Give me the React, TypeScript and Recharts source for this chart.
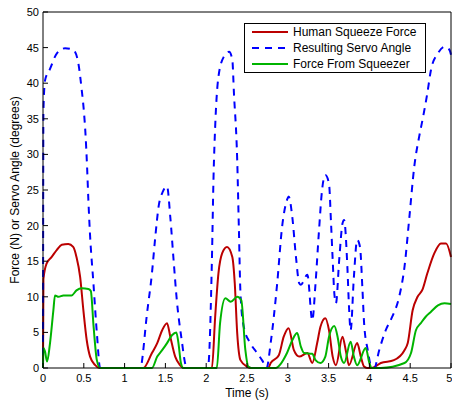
import { LineChart, Line, XAxis, YAxis, Legend } from 'recharts';

// Time (s) and values, one pair of arrays per series
const humanTime = [
  0, 0.005, 0.045, 0.107, 0.17, 0.23, 0.31, 0.37, 0.41, 0.455, 0.495, 0.536, 0.577, 0.64, 0.69,
  1.23, 1.335, 1.4, 1.46, 1.52, 1.56, 1.62, 1.68, 1.72,
  2.07, 2.11, 2.15, 2.195, 2.255, 2.32, 2.35, 2.38, 2.42, 2.5, 2.55,
  2.76, 2.79, 2.89, 2.95, 3.01, 3.075, 3.14, 3.24, 3.3, 3.36, 3.4, 3.46, 3.505, 3.55, 3.59,
  3.67, 3.71, 3.75, 3.85, 3.895, 3.935, 3.97, 4.03, 4.14, 4.3, 4.43, 4.47, 4.53, 4.59, 4.65,
  4.71, 4.795, 4.877, 4.94, 5,
];
const humanForce = [
  0, 12.5, 14.7, 15.6, 16.6, 17.3, 17.4, 17.0, 15.6, 12.8, 8.1, 3.9, 1.6, 0.4, 0,
  0, 2.1, 3.5, 5.3, 6.3, 4.4, 1.6, 0.4, 0,
  0, 7.2, 13.3, 16.1, 17.0, 15.6, 11.9, 4.9, 1.1, 0.2, 0,
  0, 0.7, 1.8, 4.4, 5.6, 2.5, 1.6, 2.1, 0.7, 3.5, 5.8, 7.0, 5.3, 1.6, 0.4,
  4.4, 2.5, 0.4, 3.5, 1.6, 0.2, 0, 0, 0.7, 1.1, 2.5, 3.5, 8.1, 10, 11,
  13.3, 16.1, 17.5, 17.5, 15.6,
];

const servoTime = [
  0, 0.005, 0.025, 0.086, 0.17, 0.27, 0.37, 0.43, 0.475, 0.5, 0.52, 0.54, 0.556, 0.575, 0.618, 0.66, 0.7,
  1.2, 1.21, 1.27, 1.335, 1.376, 1.417, 1.47, 1.52, 1.56, 1.6, 1.64, 1.7, 1.745, 1.76,
  2.02, 2.03, 2.07, 2.09, 2.11, 2.15, 2.215, 2.28, 2.32, 2.34, 2.38, 2.4, 2.42, 2.46, 2.54, 2.625, 2.69, 2.74,
  2.79, 2.87, 2.93, 2.99, 3.01, 3.055, 3.1, 3.14, 3.16, 3.24, 3.3, 3.34, 3.38, 3.42, 3.46, 3.505,
  3.53, 3.55, 3.57, 3.59, 3.63, 3.67, 3.69, 3.73, 3.75, 3.77, 3.81, 3.85, 3.885, 3.915, 3.935, 3.98,
  4.02, 4.06, 4.12, 4.2, 4.28, 4.365, 4.43, 4.49, 4.55, 4.61, 4.65, 4.71, 4.755, 4.84, 4.92, 4.98, 5,
];
const servoAngle = [
  0, 36, 40.4, 42, 44.2, 44.9, 44.7, 43, 39, 36.2, 33, 28.3, 23.6, 19, 11.9, 4.9, 0,
  0, 0.7, 7.2, 13.3, 18.4, 22.7, 24.8, 25.5, 21.2, 15.2, 9.5, 3.9, 0.5, 0,
  0, 0.7, 15.2, 26.9, 33.9, 40.9, 43.7, 44.4, 43.3, 38.6, 29.2, 19.8, 10.5, 5.8, 3.5, 2.1, 1.0, 0,
  3.5, 11.9, 19.8, 23.6, 24.1, 21.2, 15.6, 11.9, 11.7, 13.1, 6.7, 11.9, 18.9, 25, 27.1, 25.9,
  20.3, 15.2, 10.5, 9.1, 15.2, 20.3, 20.8, 14.2, 8.6, 5.3, 12.8, 18, 17, 11, 6.3, 2.5,
  0.3, 0, 2.5, 5.3, 7.2, 10, 14.2, 21.2, 28.3, 32.5, 34.8, 38.6, 41.9, 44.2, 45.1, 44.7, 44,
];

const squeezerTime = [
  0, 0.005, 0.025, 0.05, 0.086, 0.127, 0.147, 0.19, 0.25, 0.35, 0.41, 0.475, 0.556, 0.586, 0.62, 0.66, 0.7,
  1.335, 1.4, 1.46, 1.52, 1.58, 1.634, 1.66, 1.69, 1.72,
  2.13, 2.17, 2.235, 2.3, 2.38, 2.43, 2.48, 2.515, 2.55,
  2.85, 2.99, 3.055, 3.115, 3.16, 3.2, 3.3, 3.34, 3.4, 3.46, 3.505, 3.57, 3.61, 3.65, 3.69,
  3.77, 3.81, 3.85, 3.955, 4.0, 4.03, 4.14, 4.43, 4.51, 4.57, 4.63, 4.69, 4.755, 4.84, 4.92, 5,
];
const squeezerForce = [
  0, 2.8, 2.3, 0.9, 3.5, 8.1, 10.2, 10.0, 10.2, 10.2, 10.9, 11.2, 11.1, 10.8, 5.8, 1.1, 0,
  0, 1.6, 2.5, 3.5, 4.6, 5.0, 3.5, 0.7, 0,
  0, 6.3, 9.8, 9.3, 10, 9.5, 2.5, 0.2, 0,
  0, 2.1, 3.9, 4.9, 3.0, 2.1, 2.0, 1.1, 0.7, 1.6, 4.4, 5.9, 4.4, 1.6, 0.7,
  3.7, 1.6, 0.4, 2.8, 0.7, 0, 0, 0.7, 2.1, 5.3, 6.3, 7.2, 7.9, 8.8, 9.1, 9.0,
];

const seriesNames = ['Human Squeeze Force', 'Resulting Servo Angle', 'Force From Squeezer'];
const xTicks = [0, 0.5, 1, 1.5, 2, 2.5, 3, 3.5, 4, 4.5, 5];
const yTicks = [0, 5, 10, 15, 20, 25, 30, 35, 40, 45, 50];

const toPoints = (ts: number[], vs: number[]) => ts.map((t, i) => ({ t, v: vs[i] }));

const humanData = toPoints(humanTime, humanForce);
const servoData = toPoints(servoTime, servoAngle);
const squeezerData = toPoints(squeezerTime, squeezerForce);

const FONT = '"Liberation Sans", Arial, sans-serif';
const tickStyle = { fill: '#000', fontSize: 11, fontFamily: FONT };

const LegendBox = ({ payload }: any) => {
  // keep the plotting order, recharts sorts by name otherwise
  const items = [...(payload || [])].sort(
    (a: any, b: any) => seriesNames.indexOf(a.value) - seriesNames.indexOf(b.value)
  );
  return (
    <div
      style={{
        border: '1px solid #000',
        background: '#fff',
        width: 182,
        height: 50,
        boxSizing: 'border-box',
        fontFamily: FONT,
        fontSize: 12,
        color: '#000',
      }}
    >
      {items.map((entry: any) => (
        <div key={entry.value} style={{ display: 'flex', alignItems: 'center', height: 16 }}>
          <svg width={36} height={4} style={{ marginLeft: 7 }}>
            <line
              x1={0}
              y1={2}
              x2={36}
              y2={2}
              stroke={entry.color}
              strokeWidth={2}
              strokeDasharray={entry.payload?.strokeDasharray}
            />
          </svg>
          <span style={{ marginLeft: 5, whiteSpace: 'nowrap' }}>{entry.value}</span>
        </div>
      ))}
    </div>
  );
};

const YLabel = ({ viewBox }: any) => {
  const cx = 14.5;
  const cy = viewBox.y + viewBox.height / 2;
  return (
    <text
      x={cx}
      y={cy}
      dy="0.35em"
      transform={`rotate(-90 ${cx} ${cy})`}
      textAnchor="middle"
      fill="#000"
      fontSize={12}
      fontFamily={FONT}
    >
      Force (N) or Servo Angle (degrees)
    </text>
  );
};

const App = () => {
  return (
    <div style={{ position: 'absolute', left: 0, top: 0, background: '#fff' }}>
      <LineChart width={452} height={401} margin={{ top: 11, right: 0, bottom: 0, left: 0 }}>
        <XAxis
          dataKey="t"
          type="number"
          domain={[0, 5]}
          ticks={xTicks}
          height={33}
          axisLine={{ stroke: '#000' }}
          tickLine={{ stroke: '#000' }}
          tickSize={-5}
          tickMargin={11}
          tick={tickStyle}
          label={{ value: 'Time (s)', position: 'insideBottom', offset: 4, fill: '#000', fontSize: 12, fontFamily: FONT }}
        />
        <XAxis
          xAxisId="top"
          orientation="top"
          dataKey="t"
          type="number"
          domain={[0, 5]}
          ticks={xTicks}
          height={1}
          axisLine={{ stroke: '#000' }}
          tickLine={{ stroke: '#000' }}
          tickSize={-5}
          tick={false}
        />
        <YAxis
          type="number"
          domain={[0, 50]}
          ticks={yTicks}
          width={43}
          axisLine={{ stroke: '#000' }}
          tickLine={{ stroke: '#000' }}
          tickSize={-5}
          tickMargin={9}
          tick={tickStyle}
          label={<YLabel />}
        />
        <YAxis
          yAxisId="right"
          orientation="right"
          type="number"
          domain={[0, 50]}
          ticks={yTicks}
          width={1}
          axisLine={{ stroke: '#000' }}
          tickLine={{ stroke: '#000' }}
          tickSize={-5}
          tick={false}
        />
        <Legend
          layout="vertical"
          align="center"
          verticalAlign="middle"
          wrapperStyle={{ left: 244, top: 23, width: 182 }}
          content={<LegendBox />}
        />
        <Line
          data={humanData}
          dataKey="v"
          name={seriesNames[0]}
          type="monotone"
          stroke="#bb0000"
          strokeWidth={2}
          dot={false}
          isAnimationActive={false}
        />
        <Line
          data={servoData}
          dataKey="v"
          name={seriesNames[1]}
          type="monotone"
          stroke="#0000ff"
          strokeWidth={2}
          strokeDasharray="7 6"
          dot={false}
          isAnimationActive={false}
        />
        <Line
          data={squeezerData}
          dataKey="v"
          name={seriesNames[2]}
          type="monotone"
          stroke="#00b400"
          strokeWidth={2}
          dot={false}
          isAnimationActive={false}
        />
      </LineChart>
    </div>
  );
};

export default App;
